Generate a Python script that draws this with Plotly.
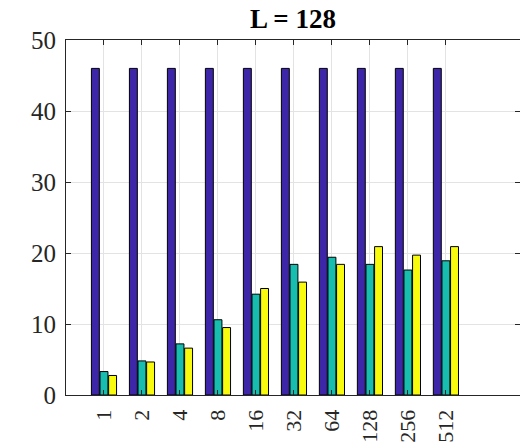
import plotly.graph_objects as go

categories = ["1", "2", "4", "8", "16", "32", "64", "128", "256", "512"]
series_a = [46, 46, 46, 46, 46, 46, 46, 46, 46, 46]
series_b = [3.3, 4.8, 7.2, 10.6, 14.2, 18.4, 19.4, 18.4, 17.6, 18.9]
series_c = [2.75, 4.65, 6.6, 9.5, 15.0, 15.9, 18.4, 20.9, 19.7, 20.9]
colors = ["#3E26A8", "#17BEB0", "#F9FB0E"]

fig = go.Figure()
for vals, col in zip([series_a, series_b, series_c], colors):
    fig.add_trace(go.Bar(x=categories, y=vals, marker=dict(color=col, line=dict(color="black", width=1))))

font = "Liberation Serif, Times New Roman, serif"
fig.update_layout(
    width=520, height=446,
    margin=dict(l=66, r=0, t=40, b=51, autoexpand=False),
    paper_bgcolor="white", plot_bgcolor="white",
    barmode="group", bargap=0.32, bargroupgap=0.08,
    showlegend=False,
    title=dict(text="<b>L = 128</b>", x=0.5, xanchor="center", xref="paper",
               y=1 - 19 / 446, yref="container", yanchor="middle",
               font=dict(family=font, size=27, color="black")),
    font=dict(family=font, size=22, color="#262626"),
)
fig.update_xaxes(
    type="category", range=[-1, 10.95], tickangle=-90, automargin=False,
    showgrid=True, gridcolor="#E3E3E3", gridwidth=1,
    showline=True, linecolor="#262626", linewidth=1, mirror="ticks",
    ticks="inside", ticklen=5, tickcolor="#262626",
    ticklabelstandoff=5,
    tickfont=dict(family=font, size=22, color="#262626"),
)
fig.update_yaxes(
    range=[0, 50], dtick=10, automargin=False,
    showgrid=True, gridcolor="#E3E3E3", gridwidth=1,
    showline=True, linecolor="#262626", linewidth=1, mirror="ticks",
    ticks="inside", ticklen=5, tickcolor="#262626", zeroline=False,
    ticklabelstandoff=4,
    tickfont=dict(family=font, size=25, color="#262626"),
)
fig.write_html("out.html")
